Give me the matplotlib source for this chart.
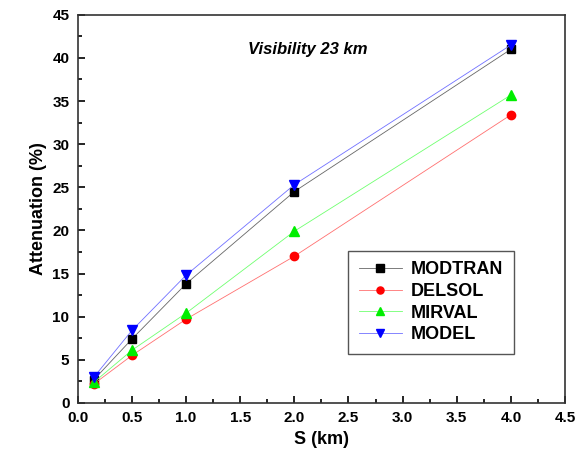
import matplotlib
matplotlib.use('Agg')
import matplotlib.pyplot as plt
from matplotlib.ticker import MultipleLocator

plt.rcParams['font.family'] = ['Liberation Sans', 'DejaVu Sans']
plt.rcParams['font.weight'] = 'bold'

s_km = [0.15, 0.5, 1.0, 2.0, 4.0]
modtran = [2.7, 7.4, 13.8, 24.5, 41.0]
delsol = [2.2, 5.5, 9.7, 17.0, 33.4]
mirval = [2.4, 6.1, 10.4, 19.9, 35.7]
model = [3.0, 8.4, 14.8, 25.3, 41.5]

fig = plt.figure(figsize=(5.76, 4.62), dpi=100)
ax = fig.add_axes([0.135, 0.128, 0.846, 0.84])

ax.plot(s_km, modtran, color='#666666', lw=0.6, marker='s', ms=6, mfc='black', mec='black', label='MODTRAN')
ax.plot(s_km, delsol, color='#ff7070', lw=0.6, marker='o', ms=6, mfc='red', mec='red', label='DELSOL')
ax.plot(s_km, mirval, color='#70ff70', lw=0.6, marker='^', ms=7, mfc='#00ee00', mec='#00ee00', label='MIRVAL')
ax.plot(s_km, model, color='#7070ff', lw=0.6, marker='v', ms=7, mfc='blue', mec='blue', label='MODEL')

ax.set_xlim(0, 4.5)
ax.set_ylim(0, 45)
ax.xaxis.set_major_locator(MultipleLocator(0.5))
ax.xaxis.set_minor_locator(MultipleLocator(0.25))
ax.yaxis.set_major_locator(MultipleLocator(5))
ax.yaxis.set_minor_locator(MultipleLocator(2.5))
ax.tick_params(which='both', direction='in', labelsize=11, width=1.2)
ax.tick_params(which='major', length=5, pad=6)
ax.tick_params(which='minor', length=3)
for sp in ax.spines.values():
    sp.set_linewidth(1.2)
    sp.set_color('#333333')

ax.set_xlabel('S (km)', fontsize=13, fontweight='bold')
ax.set_ylabel('Attenuation (%)', fontsize=13, fontweight='bold')
ax.text(0.35, 0.9, 'Visibility 23 km', transform=ax.transAxes, fontsize=12,
        fontweight='bold', style='italic')

ax.legend(loc='lower right', bbox_to_anchor=(0.914, 0.103), fontsize=13, fancybox=False,
          edgecolor='#555555', framealpha=1, handlelength=2.4, borderpad=0.6,
          labelspacing=0.25, handletextpad=0.5, markerscale=0.85)

fig.savefig('out.png', dpi=100)
